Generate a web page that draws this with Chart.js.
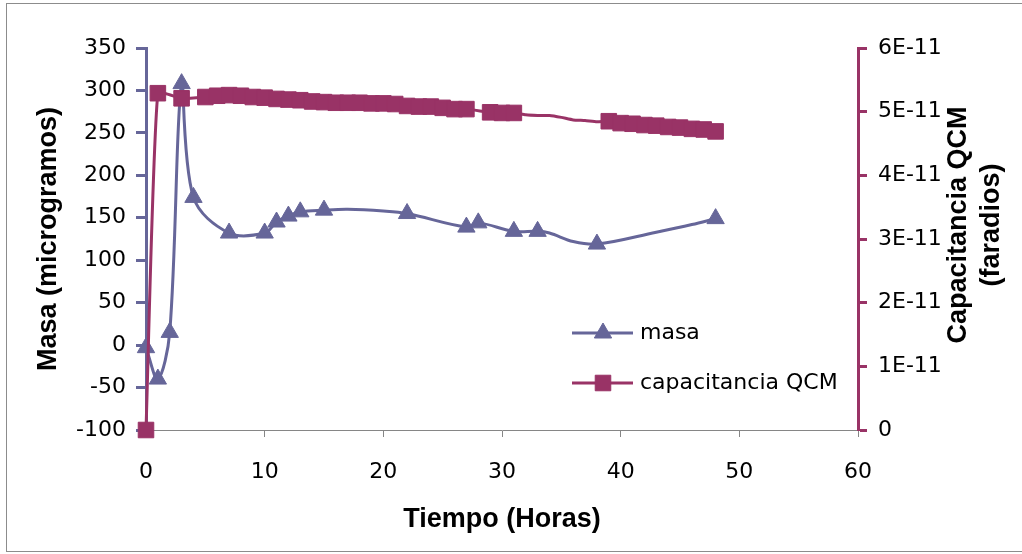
<!DOCTYPE html>
<html>
<head>
<meta charset="utf-8">
<script src="https://cdn.jsdelivr.net/npm/chart.js@4.4.1/dist/chart.umd.min.js"></script>
<style>
  html, body { margin: 0; padding: 0; background: #fff; }
  #grafico { display: block; }
</style>
</head>
<body>
<canvas id="grafico" width="1022" height="554"></canvas>
<script>
// masa (microgramos) frente al tiempo
var horasMasa = [0, 1, 2, 3, 4, 7, 10, 11, 12, 13, 15, 17, 20, 22, 27, 28, 31, 33, 34, 36, 38, 43, 46, 48];
var masa = [-3, -40, 15, 308, 174, 132, 132, 145, 152, 157, 159, 160, 158, 155, 139, 144, 134, 134, 132, 122, 119, 133, 142, 149];
// horas que llevan marcador (las demas solo dan forma a la curva)
var masaMarcadas = [0, 1, 2, 3, 4, 7, 10, 11, 12, 13, 15, 22, 27, 28, 31, 33, 38, 48];

// capacitancia QCM (faradios)
var horasCap = [0, 1, 3, 5, 6, 7, 8, 9, 10, 11, 12, 13, 14, 15, 16, 17, 18, 19, 20, 21, 22, 23, 24, 25, 26, 27,
  29, 30, 31, 32, 33, 34, 35, 36, 37, 38, 39, 40, 41, 42, 43, 44, 45, 46, 47, 48];
var capacitancia = [0, 5.29e-11, 5.21e-11, 5.23e-11, 5.25e-11, 5.26e-11, 5.25e-11, 5.23e-11, 5.22e-11, 5.20e-11,
  5.19e-11, 5.18e-11, 5.16e-11, 5.15e-11, 5.14e-11, 5.14e-11, 5.14e-11, 5.13e-11, 5.13e-11, 5.12e-11, 5.09e-11,
  5.08e-11, 5.08e-11, 5.06e-11, 5.04e-11, 5.04e-11, 4.99e-11, 4.98e-11, 4.98e-11, 4.95e-11, 4.94e-11, 4.94e-11,
  4.91e-11, 4.87e-11, 4.86e-11, 4.84e-11, 4.85e-11, 4.82e-11, 4.81e-11, 4.79e-11, 4.78e-11, 4.76e-11, 4.75e-11,
  4.73e-11, 4.72e-11, 4.69e-11];
var capSinMarca = [32, 33, 34, 35, 36, 37, 38];

var ticksX = [0, 10, 20, 30, 40, 50, 60];
var ticksMasa = [-100, -50, 0, 50, 100, 150, 200, 250, 300, 350];
var ticksCap = [0, 1e-11, 2e-11, 3e-11, 4e-11, 5e-11, 6e-11];

var colorMasa = '#666699';
var colorCap = '#993366';
var fuenteTitulo = '"Liberation Sans", Arial, sans-serif';

function puntos(xs, ys) {
  return xs.map(function (x, i) { return { x: x, y: ys[i] }; });
}

// marco gris alrededor del grafico
var marco = {
  id: 'marco',
  beforeDraw: function (chart) {
    var ctx = chart.ctx;
    ctx.save();
    ctx.fillStyle = '#fff';
    ctx.fillRect(0, 0, chart.width, chart.height);
    ctx.strokeStyle = '#8c8c8c';
    ctx.lineWidth = 1;
    ctx.strokeRect(6.5, 3.5, chart.width + 20, chart.height - 6);
    ctx.restore();
  }
};

// leyenda dentro del area de trazado
var leyenda = {
  id: 'leyenda',
  afterDraw: function (chart) {
    var ctx = chart.ctx;
    var area = chart.chartArea;
    var x0 = area.left + 426;
    var y0 = area.top + 285;
    chart.data.datasets.forEach(function (ds, i) {
      var y = y0 + i * 50;
      ctx.save();
      ctx.strokeStyle = ds.borderColor;
      ctx.lineWidth = 3;
      ctx.beginPath();
      ctx.moveTo(x0, y);
      ctx.lineTo(x0 + 61, y);
      ctx.stroke();
      ctx.fillStyle = ds.borderColor;
      ctx.strokeStyle = ds.borderColor;
      ctx.lineWidth = 1;
      Chart.helpers.drawPoint(ctx, {
        pointStyle: ds.pointStyle,
        radius: ds.leyendaRadio,
        rotation: 0,
        borderWidth: 1
      }, x0 + 31, y);
      ctx.fillStyle = '#000';
      ctx.font = '22px "DejaVu Sans"';
      ctx.textBaseline = 'middle';
      ctx.textAlign = 'left';
      ctx.fillText(ds.label, x0 + 68, y);
      ctx.restore();
    });
  }
};

// titulo del eje derecho, leido de abajo hacia arriba
var tituloDerecho = {
  id: 'tituloDerecho',
  afterDraw: function (chart) {
    var ctx = chart.ctx;
    var esc = chart.scales.yCap;
    var cy = (chart.chartArea.top + chart.chartArea.bottom) / 2 - 14;
    ctx.save();
    ctx.translate(esc.right - 63, cy);
    ctx.rotate(-Math.PI / 2);
    ctx.font = 'bold 27px ' + fuenteTitulo;
    ctx.fillStyle = '#000';
    ctx.textAlign = 'center';
    ctx.textBaseline = 'middle';
    ctx.fillText('Capacitancia QCM', 0, 0);
    ctx.fillText('(faradios)', 0, 33);
    ctx.restore();
  }
};

Chart.defaults.font.family = '"DejaVu Sans", sans-serif';
Chart.defaults.font.size = 22;
Chart.defaults.color = '#000';

new Chart(document.getElementById('grafico'), {
  type: 'line',
  data: {
    datasets: [{
      label: 'masa',
      data: puntos(horasMasa, masa),
      yAxisID: 'yMasa',
      borderColor: colorMasa,
      backgroundColor: colorMasa,
      borderWidth: 3,
      tension: 0.35,
      pointStyle: 'triangle',
      leyendaRadio: 10,
      pointRadius: function (c) {
        return masaMarcadas.indexOf(horasMasa[c.dataIndex]) >= 0 ? 10 : 0;
      },
      pointBorderWidth: 1,
      clip: false,
      order: 1
    }, {
      label: 'capacitancia QCM',
      data: puntos(horasCap, capacitancia),
      yAxisID: 'yCap',
      borderColor: colorCap,
      backgroundColor: colorCap,
      borderWidth: 3,
      tension: 0.15,
      pointStyle: 'rect',
      leyendaRadio: 11,
      pointRadius: function (c) {
        return capSinMarca.indexOf(horasCap[c.dataIndex]) >= 0 ? 0 : 11;
      },
      pointBorderWidth: 1,
      clip: false,
      order: 0
    }]
  },
  options: {
    responsive: false,
    animation: false,
    events: [],
    layout: { padding: { left: 20, top: 48, right: 0, bottom: 10 } },
    plugins: {
      legend: { display: false },
      tooltip: { enabled: false }
    },
    scales: {
      x: {
        type: 'linear',
        position: 'bottom',
        min: ticksX[0],
        max: ticksX[ticksX.length - 1],
        afterBuildTicks: function (s) { s.ticks = ticksX.map(function (v) { return { value: v }; }); },
        afterFit: function (s) { s.height = 114; },
        grid: { drawOnChartArea: false, drawTicks: true, tickLength: 7, color: '#868686', tickWidth: 1 },
        border: { display: true, color: '#868686', width: 1 },
        ticks: { padding: 22, maxRotation: 0 },
        title: {
          display: true,
          text: 'Tiempo (Horas)',
          font: { family: fuenteTitulo, size: 27, weight: 'bold' },
          padding: { top: 0, bottom: 8 }
        }
      },
      yMasa: {
        type: 'linear',
        position: 'left',
        min: ticksMasa[0],
        max: ticksMasa[ticksMasa.length - 1],
        afterBuildTicks: function (s) { s.ticks = ticksMasa.map(function (v) { return { value: v }; }); },
        afterFit: function (s) { s.width = 126; },
        grid: { drawOnChartArea: false, drawTicks: true, tickLength: 10, color: colorMasa, tickWidth: 3 },
        border: { display: true, color: colorMasa, width: 3 },
        ticks: { padding: 10 },
        title: {
          display: true,
          text: 'Masa (microgramos)',
          font: { family: fuenteTitulo, size: 27, weight: 'bold' },
          padding: { top: 12, bottom: 0 }
        }
      },
      yCap: {
        type: 'linear',
        position: 'right',
        min: ticksCap[0],
        max: ticksCap[ticksCap.length - 1],
        afterBuildTicks: function (s) { s.ticks = ticksCap.map(function (v) { return { value: v }; }); },
        afterFit: function (s) { s.width = 164; },
        grid: { drawOnChartArea: false, drawTicks: true, tickLength: 9, color: colorCap, tickWidth: 3 },
        border: { display: true, color: colorCap, width: 3 },
        ticks: {
          padding: 11,
          callback: function (v) {
            var n = Math.round(v * 1e11);
            return n === 0 ? '0' : n + 'E-11';
          }
        }
      }
    }
  },
  plugins: [marco, leyenda, tituloDerecho]
});
</script>
</body>
</html>
